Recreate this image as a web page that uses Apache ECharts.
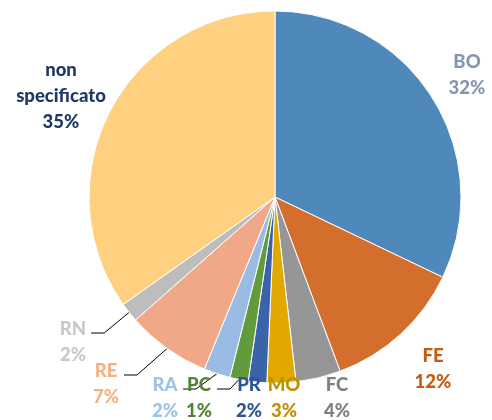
<!DOCTYPE html>
<html>
<head>
<meta charset="utf-8">
<script src="https://cdn.jsdelivr.net/npm/echarts@6/dist/echarts.min.js"></script>
<style>
  html, body { margin: 0; padding: 0; background: #fff; }
  #chart { width: 492px; height: 420px; }
</style>
</head>
<body>
<div id="chart"></div>
<script>
// data (clockwise from 12 o'clock)
const categories = ['BO', 'FE', 'FC', 'MO', 'PR', 'PC', 'RA', 'RE', 'RN', 'non specificato']
const shares = [32.1, 12.2, 3.9, 2.5, 1.6, 1.6, 2.3, 7.3, 1.7, 34.8]
const percentLabels = ['32%', '12%', '4%', '3%', '2%', '1%', '2%', '7%', '2%', '35%']
const withLeader = ['RN', 'RE', 'RA', 'PC']

const sliceColors = ['#4F88BB', '#D36E2C', '#969696', '#E1A800', '#3A63A9', '#629B3E', '#9ABCE2', '#F0A888', '#BDBDBD', '#FFD080']
const labelColors = ['#8497B0', '#C55A11', '#7F7F7F', '#BF9000', '#2F5597', '#548235', '#9DC3E6', '#F4B183', '#C9C9C9', '#203864']

// where each label block sits (center of the block)
const labelSpots = [
  [467, 75], [433, 369], [337, 398], [284, 398], [249, 398],
  [199, 398], [165, 398], [106, 384], [73, 342], [61, 96]
]

const cx = 275
const cy = 197
const R = 186
const total = shares.reduce((a, b) => a + b, 0)

function midAngle (i) {
  let cum = 0
  for (let k = 0; k < i; k++) cum += shares[k]
  return (cum + shares[i] / 2) / total * Math.PI * 2
}

const chart = echarts.init(document.getElementById('chart'))

chart.setOption({
  animation: false,
  series: [{
    type: 'pie',
    center: [cx, cy],
    radius: R,
    startAngle: 90,
    clockwise: true,
    avoidLabelOverlap: false,
    itemStyle: { borderColor: '#fff', borderWidth: 1 },
    label: {
      show: true,
      position: 'outside',
      fontFamily: 'Lato',
      fontWeight: 900,
      fontSize: 18.5,
      lineHeight: 26,
      align: 'center',
      formatter: (p) => p.name.replace(' ', '\n') + '\n' + percentLabels[p.dataIndex]
    },
    labelLine: { show: false },
    labelLayout: (params) => {
      const i = params.dataIndex
      const spot = labelSpots[i]
      const out = { x: spot[0], y: spot[1], align: 'center', verticalAlign: 'middle' }
      if (withLeader.includes(categories[i])) {
        const a = midAngle(i)
        const sx = cx + R * Math.sin(a)
        const sy = cy - R * Math.cos(a)
        const ex = spot[0] + params.labelRect.width / 2 + 5
        const ey = spot[1] - 9
        out.labelLinePoints = [[sx, sy], [ex + 13, ey], [ex, ey]]
      }
      return out
    },
    data: categories.map((name, i) => ({
      name,
      value: shares[i],
      itemStyle: { color: sliceColors[i] },
      label: { color: labelColors[i] },
      labelLine: withLeader.includes(name)
        ? { show: true, length: 10, length2: 10, lineStyle: { color: '#000', width: 1 } }
        : { show: false }
    }))
  }]
})
</script>
</body>
</html>
